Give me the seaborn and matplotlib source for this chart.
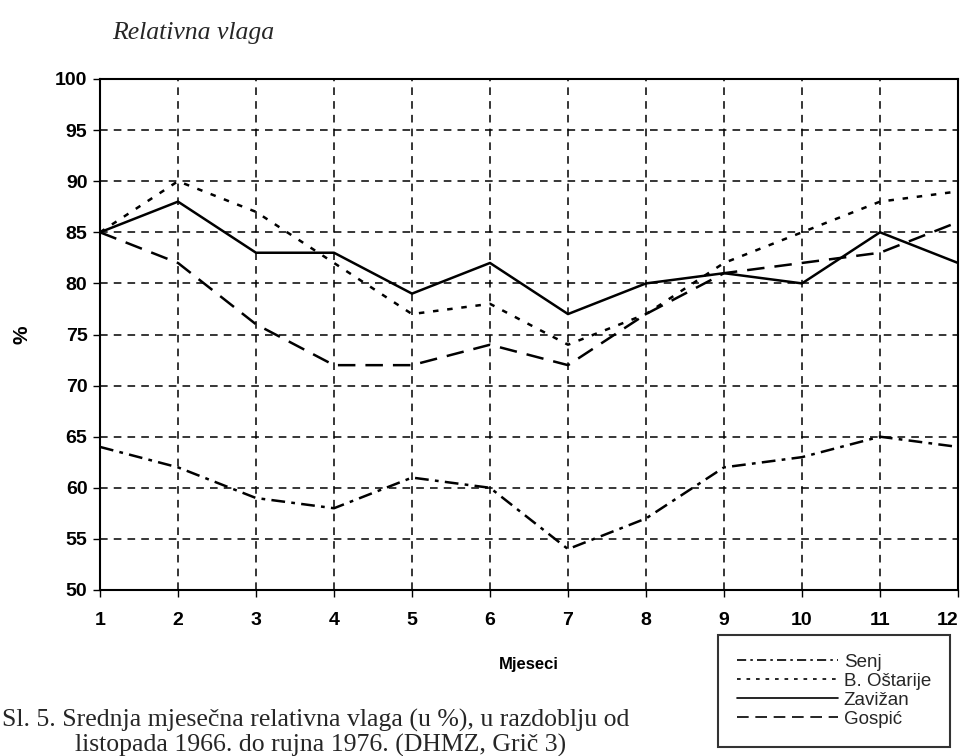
import matplotlib
matplotlib.use("Agg")
import matplotlib.pyplot as plt
import seaborn as sns
import pandas as pd

months = list(range(1, 13))
senj = [64, 62, 59, 58, 61, 60, 54, 57, 62, 63, 65, 64]
ostarije = [85, 90, 87, 82, 77, 78, 74, 77, 82, 85, 88, 89]
zavizan = [85, 88, 83, 83, 79, 82, 77, 80, 81, 80, 85, 82]
gospic = [85, 82, 76, 72, 72, 74, 72, 77, 81, 82, 83, 86]
stations = ["Senj", "B. Oštarije", "Zavižan", "Gospić"]
series = [senj, ostarije, zavizan, gospic]

sns.set_theme(style="white")
plt.rcParams['font.family'] = ['Liberation Sans', 'DejaVu Sans']

fig = plt.figure(figsize=(9.66, 7.56), dpi=100)
ax = fig.add_axes([100/966, 1-590/756, 858/966, (590-79)/756])

styles = {
    "Senj": (0, (5.5, 2.5, 1.5, 2.5)),
    "B. Oštarije": (0, (2.2, 3.5)),
    "Zavižan": "-",
    "Gospić": (0, (7, 4)),
}
for name, vals in zip(stations, series):
    df = pd.DataFrame({"Mjeseci": months, "%": vals})
    sns.lineplot(data=df, x="Mjeseci", y="%", ax=ax, color="black",
                 linewidth=1.8, linestyle=styles[name], label=name, zorder=3)

ax.set_xlim(1, 12)
ax.set_ylim(50, 100)
ax.set_xticks(months)
ax.set_yticks(range(50, 101, 5))
ax.grid(True, color="black", linestyle=(0, (5, 4)), linewidth=1.1)
for s in ax.spines.values():
    s.set_color("black")
    s.set_linewidth(1.5)
ax.tick_params(axis="both", which="both", direction="out", length=5, width=1,
               color="black", labelsize=14, pad=4, bottom=True, left=True)
ax.tick_params(axis="x", pad=11)
fig.canvas.draw()
for lab in ax.get_xticklabels() + ax.get_yticklabels():
    lab.set_fontweight("bold")
    lab.set_color("black")
xlabs = ax.get_xticklabels()
xlabs[-1].set_horizontalalignment("right")
xlabs[-1].set_x(12)

ax.set_xlabel("Mjeseci", fontsize=12, fontweight="bold", color="black", labelpad=20)
ax.set_ylabel("%", fontsize=15, fontweight="bold", color="black")
ax.yaxis.set_label_coords(-0.08, 0.5)

leg = ax.legend(loc="upper left", bbox_to_anchor=(718/966, 1-635/756),
                bbox_transform=fig.transFigure, frameon=True, fancybox=False,
                edgecolor="black", fontsize=13.5, handlelength=5.4, handletextpad=0.3,
                labelspacing=0.1, borderpad=1.0, borderaxespad=0)
leg.get_frame().set_linewidth(1.5)
for h in leg.get_lines():
    h.set_linewidth(1.2)

fig.text(112/966, 1-33/756, "Relativna vlaga", fontsize=18.5, style="italic",
         family=["Liberation Serif", "DejaVu Serif"], va="center", ha="left")
fig.text(2/966, 1-720/756, "Sl. 5. Srednja mjesečna relativna vlaga (u %), u razdoblju od",
         fontsize=18.5, family=["Liberation Serif", "DejaVu Serif"], va="center", ha="left")
fig.text(75/966, 1-745/756, "listopada 1966. do rujna 1976. (DHMZ, Grič 3)",
         fontsize=18.5, family=["Liberation Serif", "DejaVu Serif"], va="center", ha="left")

fig.savefig("out.png", dpi=100)
